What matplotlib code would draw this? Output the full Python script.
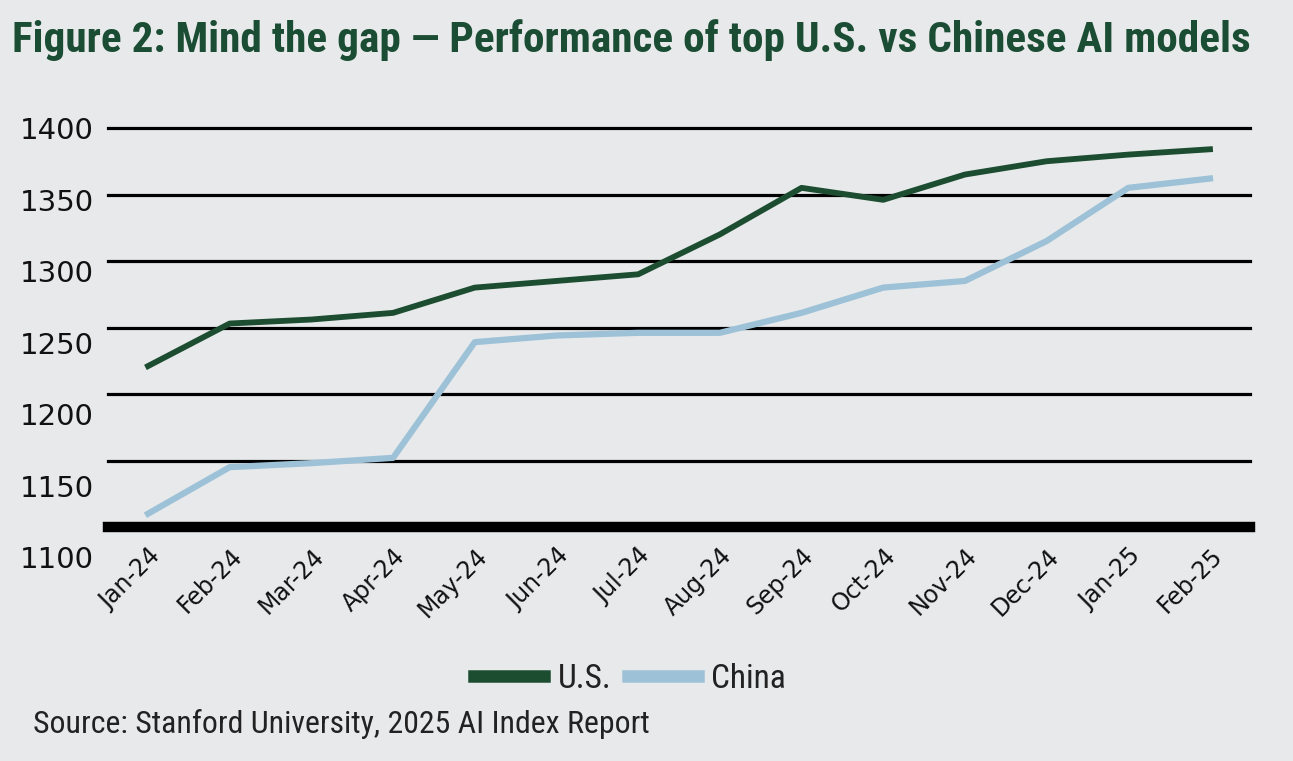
import matplotlib.pyplot as plt
from matplotlib.transforms import ScaledTranslation

months = ['Jan-24', 'Feb-24', 'Mar-24', 'Apr-24', 'May-24', 'Jun-24', 'Jul-24',
          'Aug-24', 'Sep-24', 'Oct-24', 'Nov-24', 'Dec-24', 'Jan-25', 'Feb-25']
us = [1221, 1253, 1256, 1261, 1280, 1285, 1290, 1320, 1355, 1346, 1365, 1375, 1380, 1384]
china = [1110, 1145, 1148, 1152, 1239, 1244, 1246, 1246, 1261, 1280, 1285, 1315, 1355, 1362]
yticks = [1100, 1150, 1200, 1250, 1300, 1350, 1400]

bg = '#e8e9eb'
narrow = ['Noto Sans Condensed', 'DejaVu Sans Condensed', 'Roboto Condensed',
          'Liberation Sans Narrow', 'Liberation Sans', 'DejaVu Sans']

fig = plt.figure(figsize=(12.93, 7.61), dpi=100, facecolor=bg)
ax = fig.add_axes([108 / 1293, 1 - 527 / 761, 1142 / 1293, 399 / 761])
ax.set_facecolor(bg)

# gridlines, thick base line
for v in yticks[1:]:
    ax.axhline(v, color='black', lw=2.3, clip_on=False, zorder=1)
ax.axhline(yticks[0], color='black', lw=7.5, clip_on=False, zorder=1)

x = range(len(months))
ax.plot(x, us, color='#1c4d31', lw=4.2, label='U.S.', zorder=3)
ax.plot(x, china, color='#9dc2d8', lw=4.5, label='China', zorder=3)

ax.set_xlim(-0.49, len(months) - 1 + 0.49)
ax.set_ylim(1100, 1400)
ax.set_yticks(yticks)
ax.set_yticklabels([str(v) for v in yticks], fontsize=21, color='#111111')
ax.set_xticks(list(x))
ax.set_xticklabels(months, rotation=45, ha='right', rotation_mode='anchor',
                   fontsize=17, color='#111111')
ax.tick_params(length=0)
ax.tick_params(axis='y', pad=10)
ax.tick_params(axis='x', pad=12)
for s in ax.spines.values():
    s.set_visible(False)

# the y labels drift down a little from their gridlines in the original
for lbl, v in zip(ax.get_yticklabels(), yticks):
    off = (1400 - v) / 50 * 5 / 100
    lbl.set_transform(lbl.get_transform() + ScaledTranslation(0, -off, fig.dpi_scale_trans))

title = fig.text(12 / 1293, 1 - 40 / 761,
                 'Figure 2: Mind the gap \u2014 Performance of top U.S. vs Chinese AI models',
                 family=narrow, fontweight='bold', fontsize=24, color='#1a4d33', va='center')

leg = fig.legend(loc='center', bbox_to_anchor=(630 / 1293, 1 - 679 / 761), ncol=2,
                 frameon=False, prop={'family': narrow, 'size': 24},
                 handlelength=2.1, columnspacing=0.5, handletextpad=0.4)
for ln in leg.get_lines():
    ln.set_linewidth(9)
for t in leg.get_texts():
    t.set_color('#222222')

source = fig.text(33 / 1293, 1 - 724 / 761, 'Source: Stanford University, 2025 AI Index Report',
                  family=narrow, fontsize=19, color='#222222', va='center')

# scale title and source so they span the same width as in the original
fig.canvas.draw()
for t, w in [(title, 1243), (source, 617)]:
    bb = t.get_window_extent()
    t.set_fontsize(t.get_fontsize() * w / bb.width)

fig.savefig('out.png', dpi=100, facecolor=bg)
